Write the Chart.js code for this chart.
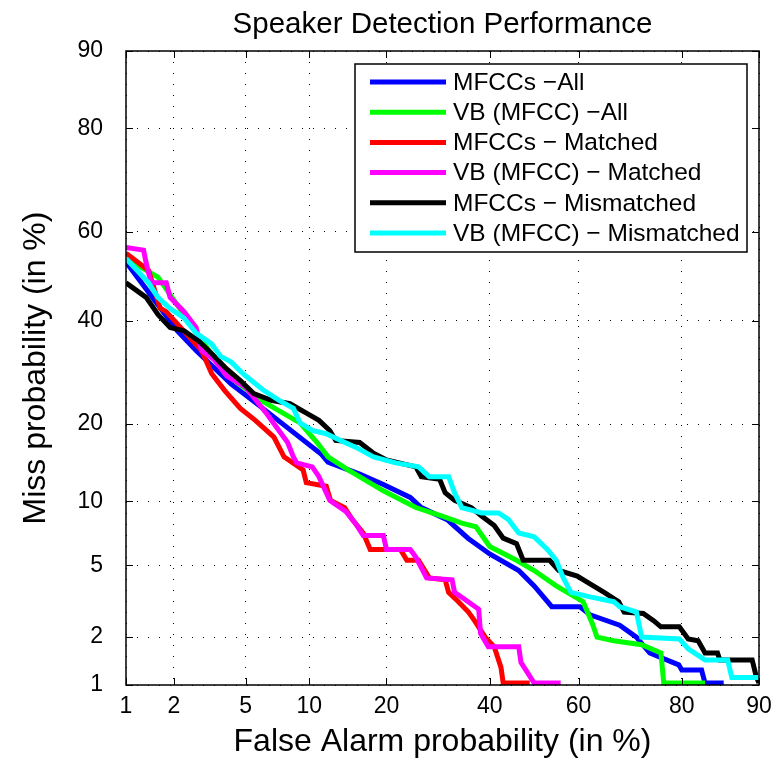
<!DOCTYPE html>
<html>
<head>
<meta charset="utf-8">
<script src="https://cdn.jsdelivr.net/npm/chart.js@4/dist/chart.umd.min.js"></script>
<style>
  html, body { margin: 0; padding: 0; background: #fff; }
  #wrap { width: 777px; height: 762px; }
</style>
</head>
<body>
<div id="wrap"><canvas id="det" width="777" height="762"></canvas></div>
<script>
// DET curves, values in % : [false alarm, miss]
const tickPct = [1, 2, 5, 10, 20, 40, 60, 80, 90];

const mfccAll = [
  [1, 53.2], [2.1, 37.8], [2.7, 33.6], [4.2, 27], [6.1, 22.6], [11.3, 15.5], [12, 14.5],
  [16, 13], [19.5, 11.8], [24, 10.4], [26, 9.4], [31, 8.3], [35.3, 6.8], [40, 5.7],
  [46.5, 4.7], [50, 3.9], [54, 3], [60.3, 3], [62.5, 2.7], [68.7, 2.35], [72, 2],
  [74.5, 1.6], [79.5, 1.35], [80, 1.25], [83, 1.25], [83.5, 1.03], [86, 1.03]
];
const vbAll = [
  [1, 54], [1.6, 49.8], [3.9, 29], [6.1, 23.8], [9.1, 20.2], [10.8, 17.2], [12, 15.2],
  [14.5, 13.5], [19.5, 11.1], [25, 9.4], [30, 8.6], [34, 8], [37, 7.7], [40, 6.2],
  [46, 5.3], [50, 4.7], [55, 3.9], [61, 3.2], [63, 2.4], [64, 2.0], [67.5, 1.9],
  [73, 1.8], [76.5, 1.6], [77, 1.03], [83.5, 1.03]
];
const mfccMatched = [
  [1, 55.2], [1.4, 51.3], [1.65, 42.8], [1.8, 42], [2.9, 33.6], [3.3, 29], [3.9, 25.7],
  [4.7, 22.6], [5.6, 20.6], [6.9, 18], [7.7, 15.2], [9.4, 13.5], [9.7, 12], [11.8, 11.6],
  [12.3, 10.1], [14, 9.4], [15, 8.3], [16.5, 7.2], [17.5, 6], [22.3, 6], [23.4, 5.3],
  [25.5, 5.3], [27.5, 4.3], [30.6, 4.2], [31.3, 3.6], [33.3, 3.2], [35.4, 2.8],
  [36.7, 2.5], [39, 2], [41, 1.75], [42.5, 1.3], [43, 1.03], [49, 1.03]
];
const vbMatched = [
  [1, 56.5], [1.3, 55.9], [1.35, 53], [1.45, 48.5], [1.8, 48.5], [1.9, 45.2], [2.3, 42],
  [2.7, 38.5], [2.9, 33.6], [3.4, 31.8], [4, 28.5], [5, 26.4], [6.4, 21.6], [8, 17.2],
  [8.5, 15.2], [8.8, 14.4], [10.3, 13.9], [11, 12.7], [11.7, 11.1], [12.2, 10.1],
  [14.2, 9], [15.4, 8], [16.5, 7], [19.5, 7], [20, 6], [24, 6], [25, 5.5], [27, 4.3],
  [32, 4.2], [32.5, 3.6], [34.6, 3.3], [37.6, 2.9], [38, 2.1], [39.7, 1.75], [46.5, 1.75],
  [47, 1.4], [50, 1.03], [56, 1.03]
];
const mfccMismatched = [
  [1, 48.5], [1.35, 45.2], [1.6, 41.4], [1.9, 38.5], [2.3, 37.8], [2.8, 35.6], [3.3, 33],
  [3.9, 30.2], [4.7, 27.6], [5.5, 25.2], [6.7, 24], [8.2, 23.4], [9.8, 21.7], [11, 20.6],
  [12.2, 19], [12.9, 17.5], [16, 17.2], [18, 15.7], [20, 14.8], [25, 13.9], [26, 12.7],
  [29.5, 12.4], [30.6, 10.9], [32.5, 10.1], [36, 9.4], [38.3, 8.6], [41, 7.8], [43, 6.8],
  [46, 6.4], [47.5, 5.3], [53.5, 5.3], [55.6, 4.7], [59.7, 4.4], [62.5, 4], [65.5, 3.6],
  [68.5, 3.2], [69.6, 2.8], [73.3, 2.75], [75.2, 2.5], [76.5, 2.3], [79.6, 2.3], [81, 1.95],
  [82.5, 1.9], [83.5, 1.6], [85.2, 1.6], [85.5, 1.45], [89.3, 1.45], [89.7, 1.15], [90, 1.03]
];
const vbMismatched = [
  [1, 54], [1.4, 48.5], [1.6, 45.2], [1.9, 42.7], [2.3, 40.6], [2.7, 37.3], [3.3, 35],
  [3.7, 32.4], [4.2, 31.3], [4.9, 28.8], [6.1, 25.9], [7.3, 24], [8.5, 22.6], [9.1, 20.2],
  [10.3, 19], [11.8, 18.5], [13.5, 17.5], [15.5, 16.5], [18, 15.2], [21.5, 14.4],
  [25.5, 13.9], [27.5, 12.7], [31.3, 12.7], [32.5, 10.9], [34, 9.4], [38.3, 8.9], [42, 8.9],
  [44.2, 8.3], [46.5, 7.2], [50, 6.9], [53, 6], [55, 5.3], [56.6, 4.3], [58.3, 3.6],
  [62.5, 3.4], [67.5, 3.2], [68.7, 3], [72, 2.8], [73, 2], [79.6, 1.95], [81, 1.7],
  [83.5, 1.45], [86.5, 1.45], [87, 1.12], [90, 1.12]
];

const seriesNames = [
  "MFCCs \u2212All", "VB (MFCC) \u2212All", "MFCCs \u2212 Matched",
  "VB (MFCC) \u2212 Matched", "MFCCs \u2212 Mismatched", "VB (MFCC) \u2212 Mismatched"
];
const seriesColors = ["#0000ff", "#00ff00", "#ff0000", "#ff00ff", "#000000", "#00ffff"];
const seriesData = [mfccAll, vbAll, mfccMatched, vbMatched, mfccMismatched, vbMismatched];

// inverse normal CDF (Acklam) - DET axes are on the normal deviate scale
function probit(p) {
  const a = [-3.969683028665376e+01, 2.209460984245205e+02, -2.759285104469687e+02, 1.383577518672690e+02, -3.066479806614716e+01, 2.506628277459239e+00];
  const b = [-5.447609879822406e+01, 1.615858368580409e+02, -1.556989798598866e+02, 6.680131188771972e+01, -1.328068155288572e+01];
  const c = [-7.784894002430293e-03, -3.223964580411365e-01, -2.400758277161838e+00, -2.549671010434283e+00, 4.374664141464968e+00, 2.938163982698783e+00];
  const d = [7.784695709041462e-03, 3.224671290700398e-01, 2.445134137142996e+00, 3.754408661907416e+00];
  const pl = 0.02425;
  let q, r;
  if (p < pl) {
    q = Math.sqrt(-2 * Math.log(p));
    return (((((c[0]*q+c[1])*q+c[2])*q+c[3])*q+c[4])*q+c[5]) / ((((d[0]*q+d[1])*q+d[2])*q+d[3])*q+1);
  }
  if (p <= 1 - pl) {
    q = p - 0.5; r = q * q;
    return (((((a[0]*r+a[1])*r+a[2])*r+a[3])*r+a[4])*r+a[5])*q / (((((b[0]*r+b[1])*r+b[2])*r+b[3])*r+b[4])*r+1);
  }
  q = Math.sqrt(-2 * Math.log(1 - p));
  return -(((((c[0]*q+c[1])*q+c[2])*q+c[3])*q+c[4])*q+c[5]) / ((((d[0]*q+d[1])*q+d[2])*q+d[3])*q+1);
}

const FONT = "'Liberation Sans', Arial, Helvetica, sans-serif";

const datasets = seriesData.map((pts, i) => ({
  label: seriesNames[i],
  data: pts.map(([fa, miss]) => ({ x: probit(fa / 100), y: probit(miss / 100) })),
  borderColor: seriesColors[i],
  backgroundColor: seriesColors[i],
  borderWidth: 5,
  pointRadius: 0,
  tension: 0,
  fill: false,
  order: seriesData.length - i, // later series drawn on top, like matlab
}));

const detAxis = (titleText, titlePad, tickPad, fit) => ({
  type: "linear",
  min: probit(0.01),
  max: probit(0.90),
  afterBuildTicks: (s) => { s.ticks = tickPct.map((v) => ({ value: probit(v / 100) })); },
  afterFit: fit,
  ticks: {
    autoSkip: false,
    maxRotation: 0,
    padding: tickPad,
    color: "#000",
    font: { family: FONT, size: 23, lineHeight: 1 },
    callback: (v, i) => tickPct[i],
  },
  grid: { color: "#000", lineWidth: 1, drawTicks: false },
  border: { display: false, dash: [1, 10] },
  title: {
    display: true,
    text: titleText,
    color: "#000",
    font: { family: FONT, size: 32, lineHeight: 1 },
    padding: titlePad,
  },
});

// fixed axis bands so the plot box lands where the original one is
const scalesOpt = {
  x: detAxis("False Alarm probability (in %)", { top: 0, bottom: 4 }, 10, (s) => {
    s.height = 77;
    s.paddingLeft = 0;
    s.paddingRight = 0;
  }),
  y: detAxis("Miss probability (in %)", { top: 20, bottom: 4 }, 23, (s) => { s.width = 126; }),
};

// title, box, inward ticks and legend, drawn the matlab way
const framePlugin = {
  id: "frame",
  afterDraw(chart) {
    const { ctx, chartArea: a, scales } = chart;
    ctx.save();
    ctx.fillStyle = "#000";
    ctx.font = "29.5px " + FONT;
    ctx.textAlign = "center";
    ctx.textBaseline = "alphabetic";
    ctx.fillText("Speaker Detection Performance", (a.left + a.right) / 2, 33);

    ctx.strokeStyle = "#000";
    ctx.lineWidth = 1.5;
    ctx.strokeRect(a.left, a.top, a.right - a.left, a.bottom - a.top);

    ctx.lineWidth = 1;
    const len = 7;
    ctx.beginPath();
    scales.x.ticks.forEach((t) => {
      const px = Math.round(scales.x.getPixelForValue(t.value)) + 0.5;
      ctx.moveTo(px, a.bottom); ctx.lineTo(px, a.bottom - len);
      ctx.moveTo(px, a.top); ctx.lineTo(px, a.top + len);
    });
    scales.y.ticks.forEach((t) => {
      const py = Math.round(scales.y.getPixelForValue(t.value)) + 0.5;
      ctx.moveTo(a.left, py); ctx.lineTo(a.left + len, py);
      ctx.moveTo(a.right, py); ctx.lineTo(a.right - len, py);
    });
    ctx.stroke();

    // legend box
    const lx = 355, ly = 64, lw = 392, lh = 188;
    ctx.fillStyle = "#fff";
    ctx.fillRect(lx, ly, lw, lh);
    ctx.lineWidth = 1.5;
    ctx.strokeRect(lx, ly, lw, lh);
    ctx.font = "24.5px " + FONT;
    ctx.textAlign = "left";
    ctx.textBaseline = "middle";
    chart.data.datasets.forEach((ds, i) => {
      const y = 82 + i * 30.2;
      ctx.strokeStyle = ds.borderColor;
      ctx.lineWidth = 5;
      ctx.beginPath();
      ctx.moveTo(370, y); ctx.lineTo(446, y);
      ctx.stroke();
      ctx.fillStyle = "#000";
      ctx.fillText(ds.label, 453, y + 1);
    });
    ctx.restore();
  },
};

new Chart(document.getElementById("det"), {
  type: "line",
  data: { datasets },
  options: {
    responsive: false,
    animation: false,
    parsing: false,
    layout: { padding: { left: 0, right: 18, top: 51, bottom: 0 } },
    scales: scalesOpt,
    plugins: {
      legend: { display: false },
      tooltip: { enabled: false },
      title: { display: false },
    },
  },
  plugins: [framePlugin],
});
</script>
</body>
</html>
